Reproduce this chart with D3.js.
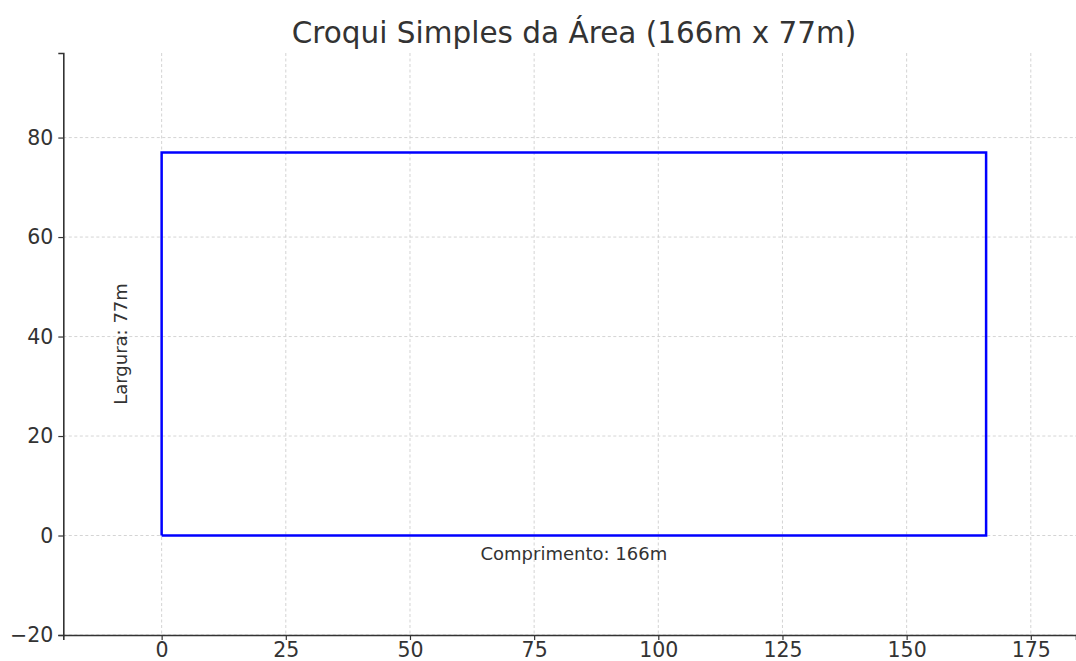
<!DOCTYPE html>
<html>
<head>
<meta charset="utf-8">
<script src="https://cdn.jsdelivr.net/npm/d3@7"></script>
<style>
  body { margin: 0; background: #fff; }
  svg text { font-family: 'DejaVu Sans', sans-serif; }
</style>
</head>
<body>
<script>
let width = 1076
let height = 661

// area outline (metres)
let comprimento = 166
let largura = 77
let outline = [[0, 0], [comprimento, 0], [comprimento, largura], [0, largura], [0, 0]]
let xTicks = [0, 25, 50, 75, 100, 125, 150, 175]
let yTicks = [-20, 0, 20, 40, 60, 80]
let title = 'Croqui Simples da Área (166m x 77m)'

let x = d3.scaleLinear().domain([-19.8, 184.1]).range([63.3, 1076])
let y = d3.scaleLinear().domain([-20, 97]).range([635, 53])

let svg = d3.select('body')
  .append('svg')
  .attr('width', width)
  .attr('height', height)

// grid
svg.append('g')
  .selectAll('line')
  .data(xTicks)
  .enter()
  .append('line')
  .attr('x1', d => x(d))
  .attr('x2', d => x(d))
  .attr('y1', y(97))
  .attr('y2', y(-20))
  .attr('stroke', '#cfcfcf')
  .attr('stroke-width', 0.9)
  .attr('stroke-dasharray', '3,2.5')

svg.append('g')
  .selectAll('line')
  .data(yTicks)
  .enter()
  .append('line')
  .attr('x1', x(-19.8))
  .attr('x2', width)
  .attr('y1', d => y(d))
  .attr('y2', d => y(d))
  .attr('stroke', '#cfcfcf')
  .attr('stroke-width', 0.9)
  .attr('stroke-dasharray', '3,2.5')

// outline
svg.append('path')
  .datum(outline)
  .attr('d', d3.line().x(d => x(d[0])).y(d => y(d[1])))
  .attr('fill', 'none')
  .attr('stroke', '#0000ff')
  .attr('stroke-width', 2.5)
  .attr('stroke-linejoin', 'miter')

// axes
let xAxis = svg.append('g')
  .attr('transform', 'translate(0,' + y(-20) + ')')
  .call(d3.axisBottom(x).tickValues(xTicks).tickSize(5).tickPadding(2).tickFormat(d3.format('d')))
let yAxis = svg.append('g')
  .attr('transform', 'translate(' + x(-19.8) + ',0)')
  .call(d3.axisLeft(y).tickValues(yTicks).tickSize(5).tickPadding(5).tickFormat(d => d < 0 ? '\u2212' + Math.abs(d) : d))

;[xAxis, yAxis].forEach(a => {
  a.select('.domain').attr('stroke', '#333').attr('stroke-width', 1.6)
  a.selectAll('.tick line').attr('stroke', '#333').attr('stroke-width', 1.2)
  a.selectAll('.tick text')
    .attr('fill', '#333')
    .attr('font-size', '20.5px')
    .attr('font-family', 'DejaVu Sans, sans-serif')
})

// labels
svg.append('text')
  .attr('x', x(comprimento / 2))
  .attr('y', y(-4))
  .attr('text-anchor', 'middle')
  .attr('dominant-baseline', 'middle')
  .attr('font-size', '18px')
  .attr('fill', '#333')
  .text('Comprimento: ' + comprimento + 'm')

svg.append('text')
  .attr('transform', 'translate(' + x(-8) + ',' + y(largura / 2) + ') rotate(-90)')
  .attr('text-anchor', 'middle')
  .attr('dominant-baseline', 'middle')
  .attr('font-size', '18px')
  .attr('fill', '#333')
  .text('Largura: ' + largura + 'm')

svg.append('text')
  .attr('x', 574)
  .attr('y', 43)
  .attr('text-anchor', 'middle')
  .attr('font-size', '29.5px')
  .attr('fill', '#333')
  .text(title)
</script>
</body>
</html>
